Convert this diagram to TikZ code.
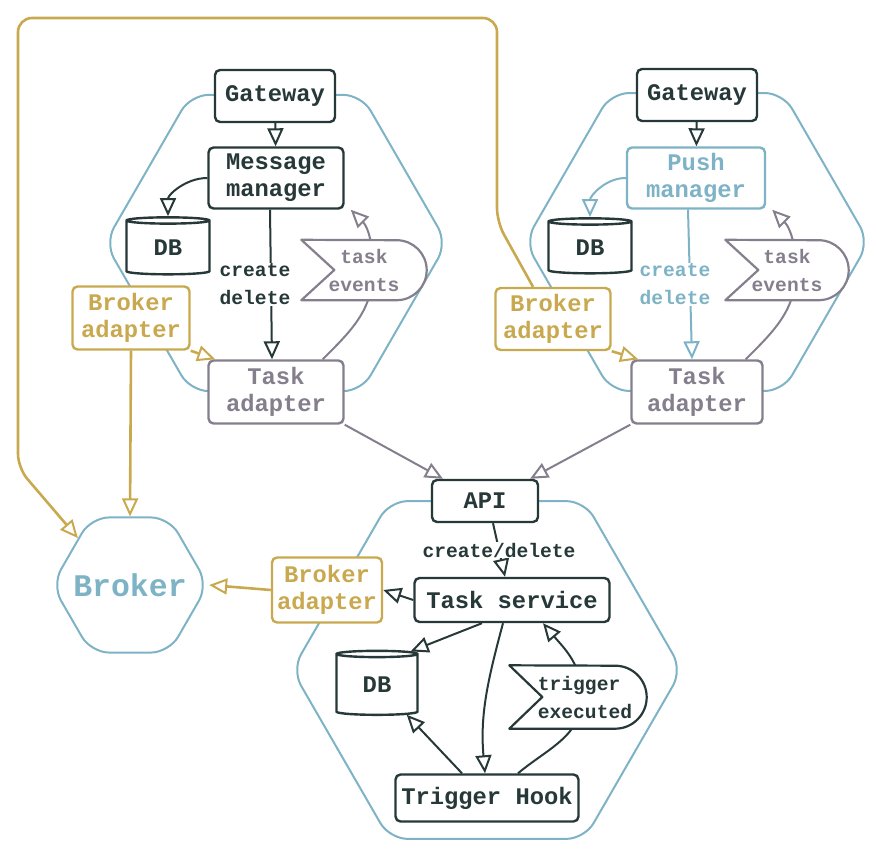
\documentclass[tikz,border=0pt]{standalone}
\usepackage{fontspec}
\setmonofont{Liberation Mono}
\usetikzlibrary{arrows.meta,positioning,calc,shapes.geometric,backgrounds}
\definecolor{svcblue}{HTML}{7EB3C6}
\definecolor{svcyellow}{HTML}{C9A94F}
\definecolor{svcgray}{HTML}{857F8D}
\definecolor{svcdark}{HTML}{263838}
\newcommand{\svcfont}{\ttfamily\bfseries\fontsize{23.8}{27}\selectfont}
\newcommand{\svclabelfont}{\ttfamily\bfseries\fontsize{19.6}{28}\selectfont}
\newcommand{\svcbigfont}{\ttfamily\bfseries\fontsize{31.5}{34}\selectfont}
% outline of a signal: notch on the left, round on the right
\newcommand{\sigoutline}[4]{%
  \draw[#2,line width=2.2pt,fill=white,line join=round]
    (#1.north west) -- ($(#1.west)+(#3,0)$) -- (#1.south west)
    -- ($(#1.south east)+(-#4,0)$) arc[start angle=-90,end angle=90,radius=#4]
    -- cycle;}
\tikzset{
  hexframe/.style={regular polygon,regular polygon sides=6,draw=svcblue,line width=2pt,
                   rounded corners=18pt,inner sep=0pt},
  mainbox/.style={draw=svcdark,line width=2.4pt,rounded corners=5pt,fill=white,
                  align=center,text=svcdark,font=\svcfont,inner sep=0pt},
  adapterbox/.style={mainbox,draw=svcgray,text=svcgray},
  brokerbox/.style={mainbox,draw=svcyellow,text=svcyellow},
  pushbox/.style={mainbox,draw=svcblue,text=svcblue},
  dbstore/.style={cylinder,shape border rotate=90,shape aspect=0.22,draw=svcdark,
                  line width=2.4pt,fill=white,text=svcdark,font=\svcfont,inner sep=0pt},
  eventsig/.style={align=center,font=\svclabelfont,inner sep=0pt},
  flow/.style={-{Triangle[open,length=18pt,width=16pt,line width=2pt]},line width=2pt,draw=svcdark},
  pushflow/.style={flow,draw=svcblue},
  adapterflow/.style={flow,draw=svcgray},
  brokerflow/.style={flow,draw=svcyellow,line width=2.6pt},
  flowlabel/.style={font=\svclabelfont,fill=white,inner sep=1pt,align=center,text=svcdark}
}
\begin{document}
\begin{tikzpicture}[x=1pt,y=1pt]
  \useasboundingbox (0,0) rectangle (876,-851);

  % message service
  \node[mainbox,minimum width=120,minimum height=52] (gwl) at (275,-96) {Gateway};
  \node[mainbox,minimum width=135,minimum height=61] (mml) at (276,-178) {Message\\manager};
  \node[dbstore,minimum width=83,minimum height=57] (dbl) at (168,-248) {DB};
  \node[eventsig,text=svcgray,minimum width=125,minimum height=60] (tevl) at (364,-270) {task\\events};
  \node[brokerbox,minimum width=117,minimum height=63] (bal) at (131,-318) {Broker\\adapter};
  \node[adapterbox,minimum width=135,minimum height=63] (tal) at (276,-392) {Task\\adapter};

  % push service
  \node[mainbox,minimum width=120,minimum height=52] (gwr) at (697,-95) {Gateway};
  \node[pushbox,minimum width=138,minimum height=61] (pmr) at (696,-178) {Push\\manager};
  \node[dbstore,minimum width=83,minimum height=55] (dbr) at (590,-248) {DB};
  \node[eventsig,text=svcgray,minimum width=123,minimum height=60] (tevr) at (787,-270) {task\\events};
  \node[brokerbox,minimum width=115,minimum height=62] (bar) at (553,-319) {Broker\\adapter};
  \node[adapterbox,minimum width=131,minimum height=63] (tar) at (697,-392) {Task\\adapter};

  % task service
  \node[mainbox,minimum width=106,minimum height=42] (api) at (485,-501) {API};
  \node[mainbox,minimum width=195,minimum height=44] (tsv) at (512,-600) {Task service};
  \node[dbstore,minimum width=81,minimum height=64] (dbb) at (377,-685) {DB};
  \node[eventsig,align=left,text=svcdark,minimum width=137,minimum height=63] (tex) at (578,-697) {\hspace*{14pt}trigger\\\hspace*{14pt}executed};
  \node[mainbox,minimum width=183,minimum height=47] (thk) at (487,-798) {Trigger Hook};
  \node[brokerbox,minimum width=110,minimum height=65] (bab) at (327,-590) {Broker\\adapter};

  \node[hexframe,minimum size=156,font=\svcbigfont,text=svcblue] (broker) at (130,-585) {\makebox[0pt]{Broker}};

  \coordinate (loopbend) at (497,-222);
  \coordinate (looptr) at (497,-18);
  \coordinate (looptl) at (18,-18);
  \coordinate (loopbl) at (18,-468);

  \begin{scope}[on background layer]
    \node[hexframe,minimum size=342] (hexl) at (276,-243) {};
    \node[hexframe,minimum size=344] (hexr) at (697,-242) {};
    \node[hexframe,minimum size=390] (hexb) at (487,-670) {};
    \draw[adapterflow] ([xshift=-22pt]tal.north east) to[out=45,in=-90] ([xshift=9pt]tevl.center)
      to[out=90,in=-45] ([xshift=6pt]mml.south east);
    \draw[adapterflow] ([xshift=-18pt]tar.north east) to[out=45,in=-90] ([xshift=9pt]tevr.center)
      to[out=90,in=-45] ([xshift=6pt]pmr.south east);
    \draw[flow] ([xshift=31pt]thk.north) to[out=40,in=-90] ([xshift=4pt]tex.center)
      to[out=90,in=-50] ([xshift=31pt]tsv.south);
    \sigoutline{tevl}{svcgray}{33}{30}
    \sigoutline{tevr}{svcgray}{33}{30}
    \sigoutline{tex}{svcdark}{33}{31.5}
  \end{scope}

  \draw[flow] (gwl) -- (mml);
  \draw[flow] (mml.west) to[out=180,in=90] (dbl.north);
  \draw[flow] ([xshift=-6pt]mml.south) -- node[flowlabel,xshift=-16pt]{create\\delete} ([xshift=-4pt]tal.north);
  \draw[brokerflow] (bal.south east) -- ([xshift=8pt]tal.north west);
  \draw[brokerflow] (bal.south) -- (broker.north);
  \draw[adapterflow] (tal.south east) -- ([xshift=-42pt]api.north);

  \draw[flow] (gwr) -- (pmr);
  \draw[pushflow] (pmr.west) to[out=180,in=90] (dbr.north);
  \draw[pushflow] ([xshift=-8pt]pmr.south) -- node[flowlabel,text=svcblue,xshift=-15pt]{create\\delete} ([xshift=-5pt]tar.north);
  \draw[brokerflow] (bar.south east) -- ([xshift=8pt]tar.north west);
  \draw[adapterflow] (tar.south west) -- ([xshift=45pt]api.north);
  \draw[brokerflow,rounded corners=14pt] ([xshift=-20pt]bar.north) -- (loopbend) -- (looptr)
    -- (looptl) -- (loopbl) -- (broker.138);

  \draw[flow] ([xshift=8pt]api.south) -- node[flowlabel]{create/delete} ([xshift=-7pt]tsv.north);
  \draw[flow] (tsv.west) -- (bab.east);
  \draw[brokerflow] (bab.west) -- (broker.east);
  \draw[flow] ([xshift=-30pt]tsv.south) -- (dbb.north east);
  \draw[flow] ([xshift=-9pt]tsv.south) to[out=-105,in=95] ([xshift=-2pt]thk.north);
  \draw[flow] ([xshift=-25pt]thk.north) -- (dbb.south east);
\end{tikzpicture}
\end{document}
